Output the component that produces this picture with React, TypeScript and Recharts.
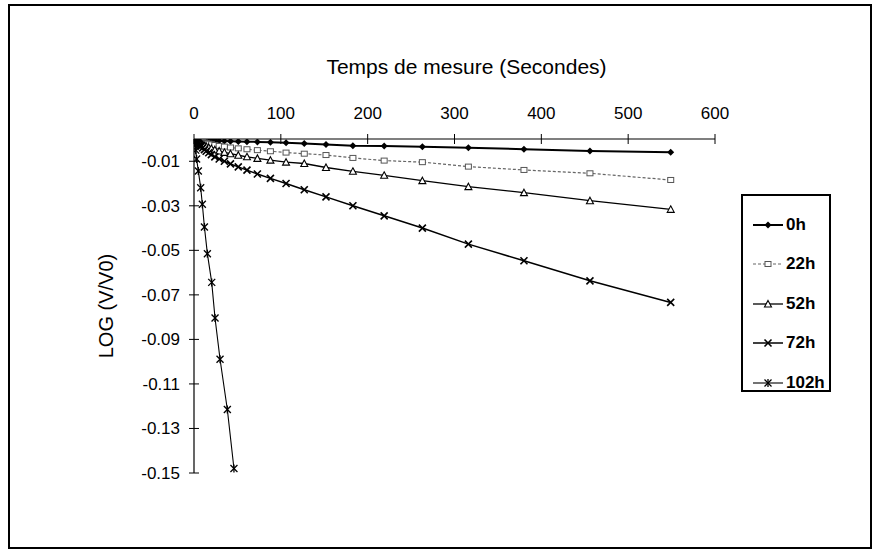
import React from "react";
import { LineChart, Line, XAxis, YAxis } from "recharts";

// measurement times (s), shared by the first four series
const times = [1, 2, 3, 4, 5, 6, 7, 8, 10, 12, 14, 17, 20, 24, 29, 35, 42, 51, 61, 73, 88, 106, 127, 152, 183, 219, 263, 316, 380, 456, 549];

const log0h = [0, -0.0001, -0.0001, -0.0002, -0.0002, -0.0002, -0.0003, -0.0003, -0.0004, -0.0004, -0.0005, -0.0005, -0.0006, -0.0007, -0.0008, -0.0009, -0.001, -0.0011, -0.0012, -0.0013, -0.0015, -0.0017, -0.002, -0.0025, -0.003, -0.0031, -0.0035, -0.0039, -0.0046, -0.0054, -0.006];
const log22h = [-0.0001, -0.0003, -0.0004, -0.0005, -0.0007, -0.0008, -0.001, -0.0011, -0.0013, -0.0016, -0.0018, -0.0021, -0.0024, -0.0027, -0.0031, -0.0034, -0.0038, -0.0042, -0.0046, -0.005, -0.0055, -0.0061, -0.0066, -0.0072, -0.0085, -0.0097, -0.0104, -0.0124, -0.0139, -0.0154, -0.0184];
const log52h = [-0.0002, -0.0005, -0.0008, -0.001, -0.0013, -0.0015, -0.0018, -0.002, -0.0025, -0.0029, -0.0033, -0.0038, -0.0043, -0.0048, -0.0054, -0.006, -0.0066, -0.0073, -0.008, -0.0087, -0.0095, -0.0104, -0.011, -0.0128, -0.0145, -0.0163, -0.0187, -0.0214, -0.0241, -0.0277, -0.0316];
const log72h = [-0.0004, -0.0009, -0.0013, -0.0017, -0.0021, -0.0025, -0.003, -0.0033, -0.004, -0.0048, -0.0055, -0.0062, -0.007, -0.008, -0.009, -0.01, -0.0112, -0.0125, -0.014, -0.0157, -0.0177, -0.02, -0.0228, -0.026, -0.03, -0.0345, -0.04, -0.0472, -0.0547, -0.0637, -0.0734];

// 102h was only measured over the first ~45 s
const times102h = [1, 2, 3, 5, 7.7, 9.6, 12, 15.4, 20.4, 24.2, 30, 38.4, 46];
const log102h = [-0.002, -0.005, -0.009, -0.0144, -0.0219, -0.0293, -0.0395, -0.0515, -0.0644, -0.0804, -0.0989, -0.1215, -0.148];

const xTicks = [0, 100, 200, 300, 400, 500, 600];
const yTicks = [-0.15, -0.13, -0.11, -0.09, -0.07, -0.05, -0.03, -0.01];

const FONT = "Arial, 'Liberation Sans', sans-serif";

const toPoints = (xs: number[], ys: number[]) => xs.map((t, i) => ({ t, v: ys[i] }));

type MarkerKind = "diamond" | "square" | "triangle" | "cross" | "star";

function Marker({ kind, cx, cy }: { kind: MarkerKind; cx: number; cy: number }) {
  if (kind === "diamond") {
    return <path d={`M${cx},${cy - 3.5} L${cx + 3.5},${cy} L${cx},${cy + 3.5} L${cx - 3.5},${cy} Z`} fill="#000" />;
  }
  if (kind === "square") {
    return <rect x={cx - 3} y={cy - 2.5} width={6} height={5} fill="#fff" stroke="#555" strokeWidth={1} />;
  }
  if (kind === "triangle") {
    return <path d={`M${cx},${cy - 3.5} L${cx + 3.5},${cy + 3} L${cx - 3.5},${cy + 3} Z`} fill="#fff" stroke="#000" strokeWidth={1.1} />;
  }
  if (kind === "cross") {
    return (
      <g stroke="#000" strokeWidth={1.6}>
        <line x1={cx - 3.5} y1={cy - 3.5} x2={cx + 3.5} y2={cy + 3.5} />
        <line x1={cx - 3.5} y1={cy + 3.5} x2={cx + 3.5} y2={cy - 3.5} />
      </g>
    );
  }
  return (
    <g stroke="#000" strokeWidth={1.3}>
      <line x1={cx - 3.5} y1={cy - 3.5} x2={cx + 3.5} y2={cy + 3.5} />
      <line x1={cx - 3.5} y1={cy + 3.5} x2={cx + 3.5} y2={cy - 3.5} />
      <line x1={cx} y1={cy - 4} x2={cx} y2={cy + 4} />
    </g>
  );
}

const dot = (kind: MarkerKind) => (p: any) => <Marker key={p.index} kind={kind} cx={p.cx} cy={p.cy} />;

const series = [
  { name: "0h", data: toPoints(times, log0h), kind: "diamond" as MarkerKind, color: "#000", width: 2, dash: undefined },
  { name: "22h", data: toPoints(times, log22h), kind: "square" as MarkerKind, color: "#666", width: 1.2, dash: "3 2" },
  { name: "52h", data: toPoints(times, log52h), kind: "triangle" as MarkerKind, color: "#000", width: 1.3, dash: undefined },
  { name: "72h", data: toPoints(times, log72h), kind: "cross" as MarkerKind, color: "#000", width: 1.5, dash: undefined },
  { name: "102h", data: toPoints(times102h, log102h), kind: "star" as MarkerKind, color: "#000", width: 1.1, dash: undefined },
];

const TS = 5;
const X_TM = 13;
const Y_TM = 9;

function XTick({ x, y, payload }: any) {
  const axisY = y + X_TM + TS;
  return (
    <g>
      <line x1={x} x2={x} y1={axisY - TS} y2={axisY + TS} stroke="#000" />
      <text x={x} y={y - 2} textAnchor="middle" fontSize={17} fontFamily={FONT} fill="#000">
        {payload.value}
      </text>
    </g>
  );
}

function YTick({ x, y, payload }: any) {
  const axisX = x + Y_TM + TS;
  return (
    <g>
      <line x1={axisX - TS} x2={axisX + TS} y1={y} y2={y} stroke="#000" />
      <text x={x} y={y} dy="0.35em" textAnchor="end" fontSize={17} fontFamily={FONT} fill="#000">
        {Number(payload.value).toFixed(2)}
      </text>
    </g>
  );
}

function LegendBox() {
  return (
    <div
      style={{
        position: "absolute",
        left: 741,
        top: 194,
        width: 90,
        height: 198,
        border: "2px solid #000",
        boxSizing: "border-box",
        background: "#fff",
        paddingTop: 9,
      }}
    >
      {series.map((s) => (
        <div key={s.name} style={{ display: "flex", alignItems: "center", height: 39.5 }}>
          <svg width={34} height={14} style={{ marginLeft: 8 }}>
            <line x1={2} x2={32} y1={7} y2={7} stroke={s.color} strokeWidth={s.width} strokeDasharray={s.dash} />
            <Marker kind={s.kind} cx={17} cy={7} />
          </svg>
          <span style={{ fontFamily: FONT, fontWeight: "bold", fontSize: 17, marginLeft: 1 }}>{s.name}</span>
        </div>
      ))}
    </div>
  );
}

export default function App() {
  return (
    <div style={{ position: "absolute", left: 0, top: 0, width: 876, height: 556, background: "#fff" }}>
      <div
        style={{
          position: "absolute",
          left: 8,
          top: 4,
          width: 864,
          height: 545,
          border: "2px solid #000",
          boxSizing: "border-box",
        }}
      />
      <LineChart width={876} height={556} margin={{ top: 59, right: 161, bottom: 83, left: 96 }}>
        <XAxis
          xAxisId={0}
          type="number"
          dataKey="t"
          orientation="top"
          height={80}
          domain={[0, 600]}
          ticks={xTicks}
          allowDataOverflow
          axisLine={{ stroke: "#000", strokeWidth: 1.2 }}
          tickLine={false}
          tickSize={TS}
          tickMargin={X_TM}
          tick={<XTick />}
          label={{
            value: "Temps de mesure (Secondes)",
            position: "insideTop",
            offset: 0,
            dx: 12,
            fill: "#000",
            fontSize: 21,
            fontFamily: FONT,
          }}
        />
        <YAxis
          type="number"
          dataKey="v"
          width={98}
          domain={[-0.15, 0]}
          ticks={yTicks}
          allowDataOverflow
          axisLine={{ stroke: "#000", strokeWidth: 1.2 }}
          tickLine={false}
          tickSize={TS}
          tickMargin={Y_TM}
          tick={<YTick />}
          label={{
            value: "LOG (V/V0)",
            angle: -90,
            position: "insideLeft",
            offset: 10,
            fill: "#000",
            fontSize: 20,
            fontFamily: FONT,
            style: { textAnchor: "middle" },
          }}
        />
        {series.map((s) => (
          <Line
            key={s.name}
            data={s.data}
            dataKey="v"
            name={s.name}
            type="linear"
            stroke={s.color}
            strokeWidth={s.width}
            strokeDasharray={s.dash}
            dot={dot(s.kind)}
            activeDot={false}
            isAnimationActive={false}
          />
        ))}
      </LineChart>
      <LegendBox />
    </div>
  );
}
